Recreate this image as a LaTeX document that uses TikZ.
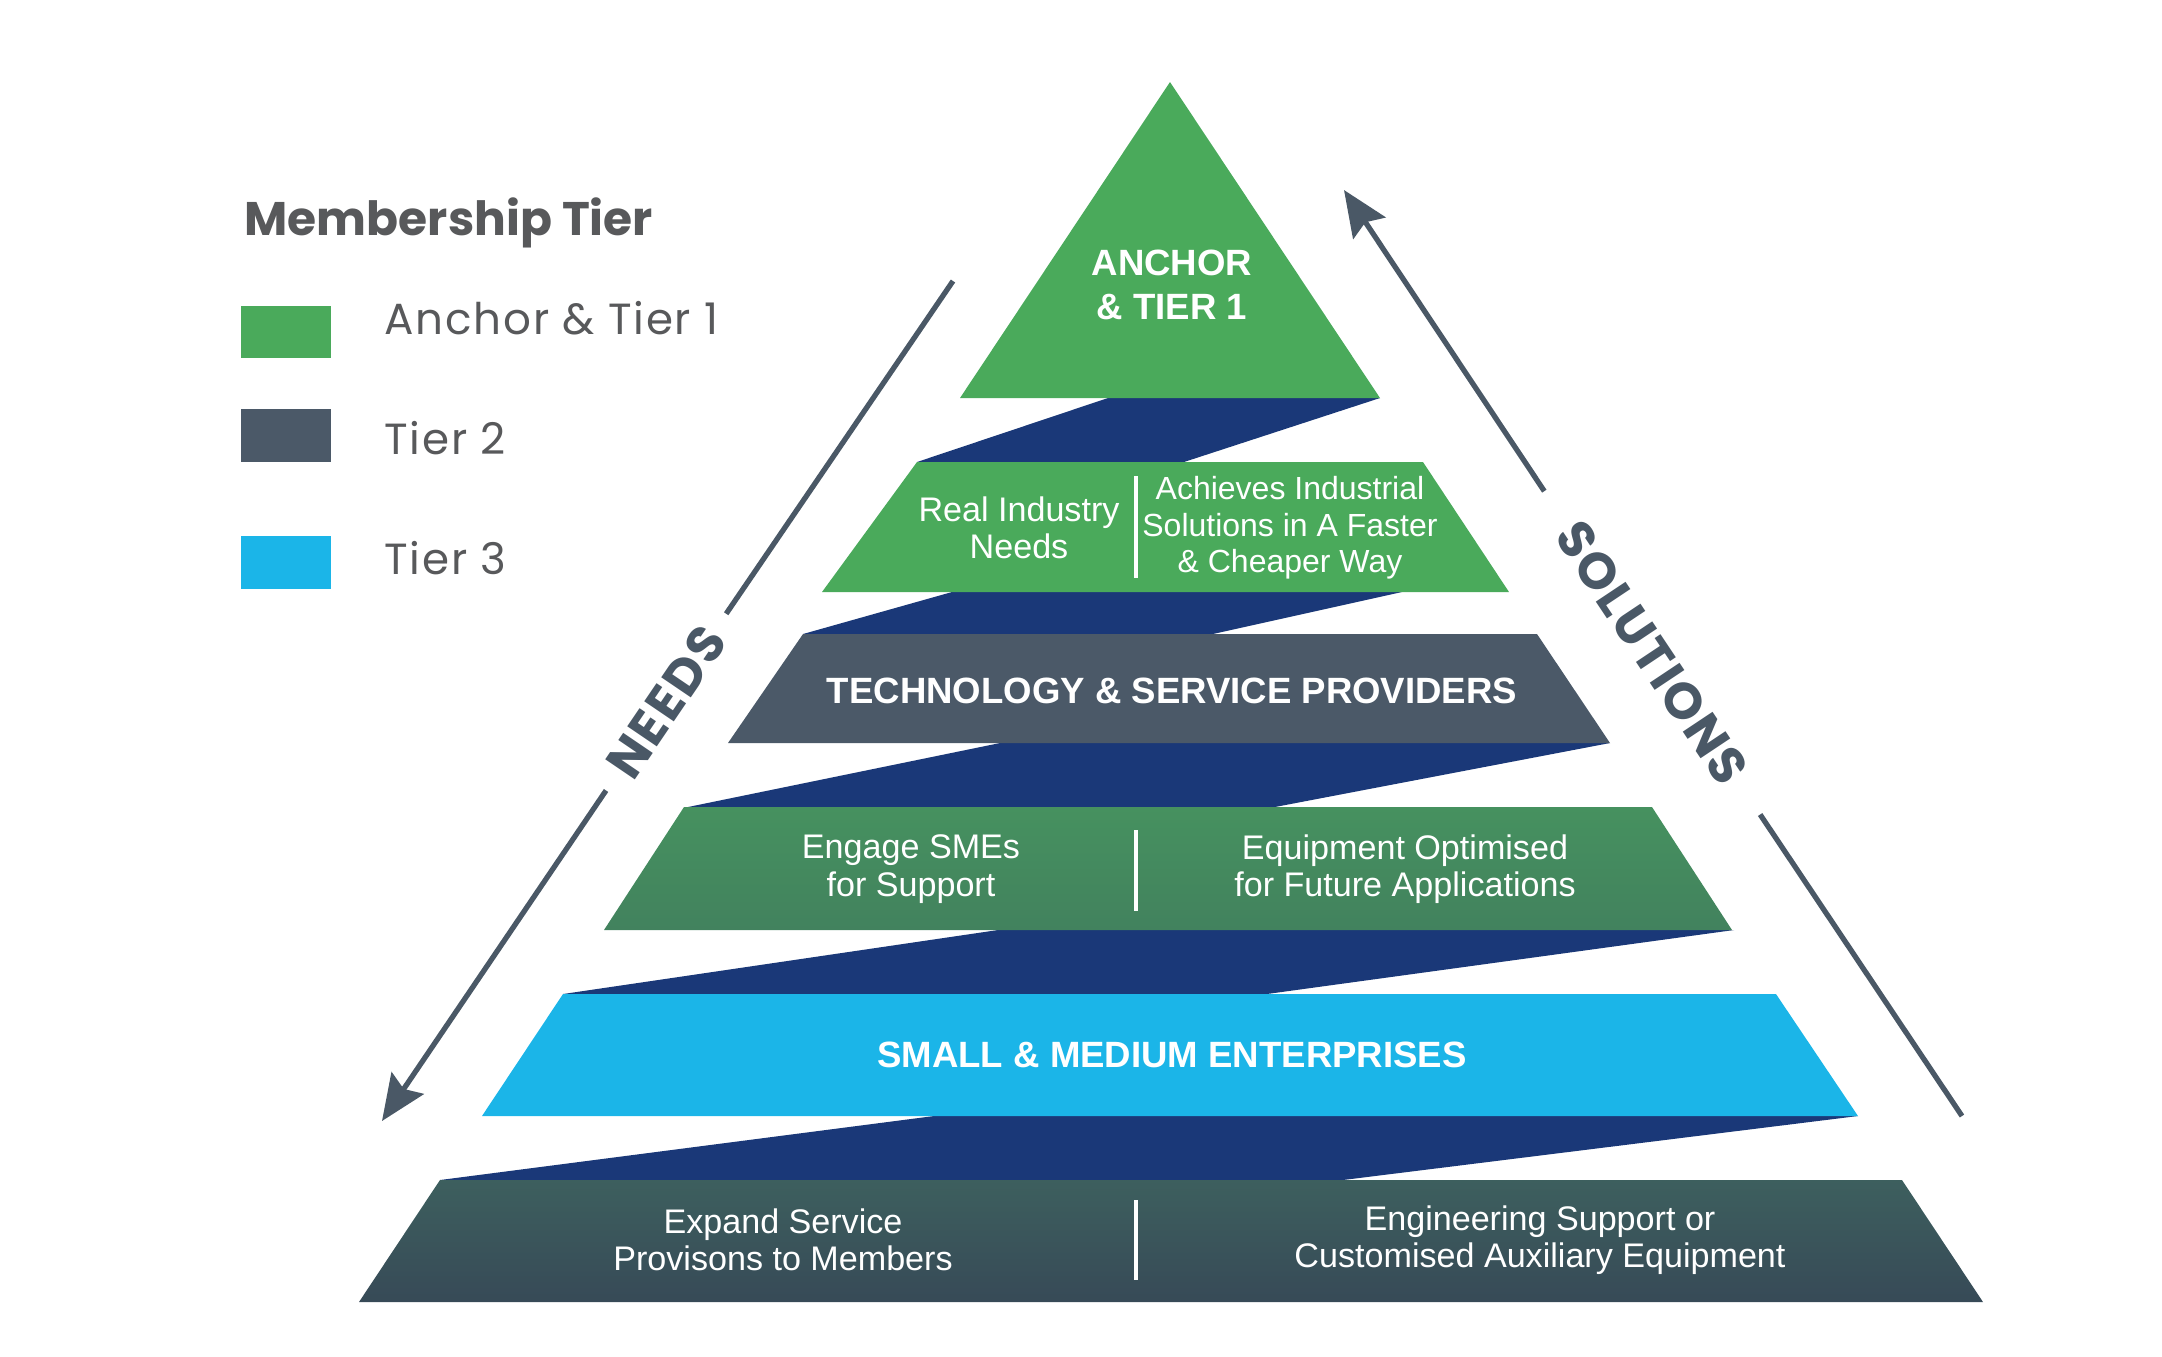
\documentclass[tikz,border=0pt]{standalone}
\usepackage{fontspec}
\setmainfont{Liberation Sans}
\newfontfamily\roundfont{Poppins}
\newfontfamily\roundwide[LetterSpace=4]{Poppins}
\usetikzlibrary{arrows.meta}
\definecolor{tiergreen}{HTML}{4AAA5B}
\definecolor{tiergray}{HTML}{4B5968}
\definecolor{tiercyan}{HTML}{1BB5E8}
\definecolor{navyband}{HTML}{1A3878}
\definecolor{greentop}{HTML}{46915F}
\definecolor{greenbot}{HTML}{42825E}
\definecolor{tealtop}{HTML}{3D5F5E}
\definecolor{tealbot}{HTML}{374A57}
\definecolor{legendgray}{HTML}{58595B}
\definecolor{arrowgray}{HTML}{4A5866}
\begin{document}
\begin{tikzpicture}[x=0.01cm, y=-0.01cm,
  every node/.style={font=\fontsize{9.7}{10.6}\selectfont, text=white, align=center, inner sep=0pt},
  bandtitle/.style={font=\bfseries\fontsize{10.4}{12.4}\selectfont},
  divider/.style={white, line width=0.9pt},
  sidearrow/.style={arrowgray, line width=1.5pt},
  sidelabel/.style={text=arrowgray, inner xsep=6pt, font=\roundwide\bfseries\fontsize{14.5}{15}\selectfont},
  legendtext/.style={anchor=west, text=legendgray, font=\roundwide\fontsize{12.4}{14}\selectfont}]
\useasboundingbox (0,0) rectangle (2162,1356);
\foreach \a/\b/\c/\d/\t/\u in {1108/1380/1184/917/398/462, 952/1402/1213/803/592/634,
    1000/1610/1275/688/743/807, 998/1734/1267/563/930/994, 934/1858/1343/440/1116/1180}
  \fill[navyband] (\a,\t) -- (\b,\t) -- (\c,\u) -- (\d,\u) -- cycle;
\fill[tiergreen] (1170,82) -- (1380,398) -- (960,398) -- cycle;
\fill[tiergreen] (917,462) -- (1423,462) -- (1509,592) -- (822,592) -- cycle;
\fill[tiergray] (803,634) -- (1537,634) -- (1610,743) -- (728,743) -- cycle;
\shade[top color=greentop, bottom color=greenbot] (684,807) -- (1652,807) -- (1732,930) -- (604,930) -- cycle;
\fill[tiercyan] (563,994) -- (1776,994) -- (1858,1116) -- (482,1116) -- cycle;
\shade[top color=tealtop, bottom color=tealbot] (440,1180) -- (1902,1180) -- (1983,1302) -- (359,1302) -- cycle;
\draw[divider] (1136,476) -- (1136,578);
\draw[divider] (1136,830) -- (1136,911);
\draw[divider] (1136,1200) -- (1136,1280);
\node[bandtitle] (anchor) at (1172,285) {ANCHOR\\\& TIER 1};
\node (realneeds) at (1019,528) {Real Industry\\Needs};
\node[font=\fontsize{9.1}{10.4}\selectfont] (achieves) at (1290,528) {Achieves Industrial\\Solutions in A Faster\\\& Cheaper Way};
\node[bandtitle] (providers) at (1172,691) {TECHNOLOGY \& SERVICE PROVIDERS};
\node (engage) at (911,869) {Engage SMEs\\for Support};
\node (optimised) at (1405,869) {Equipment Optimised\\for Future Applications};
\node[bandtitle] (smes) at (1172,1055) {SMALL \& MEDIUM ENTERPRISES};
\node (expand) at (783,1240) {Expand Service\\Provisons to Members};
\node (auxiliary) at (1540,1240) {Engineering Support or\\Customised Auxiliary Equipment};
\coordinate (needstop) at (953,281);
\coordinate (needsend) at (382,1121);
\node[sidelabel, rotate=55.8] (needs) at (666,702) {NEEDS};
\draw[sidearrow] (needstop) -- (needs);
\draw[sidearrow, -{Stealth[length=13pt, width=11pt, inset=2pt]}] (needs) -- (needsend);
\coordinate (solbottom) at (1962,1116);
\coordinate (soltip) at (1344,190);
\node[sidelabel, inner xsep=12pt, rotate=-56.3] (solutions) at (1652,653) {SOLUTIONS};
\draw[sidearrow] (solbottom) -- (solutions);
\draw[sidearrow, -{Stealth[length=13pt, width=11pt, inset=2pt]}] (solutions) -- (soltip);
\node[anchor=west, text=legendgray, font=\roundfont\bfseries\fontsize{13.4}{14}\selectfont] (legendtitle) at (244,223) {Membership Tier};
\fill[tiergreen] (241,306) rectangle (331,358);
\fill[tiergray] (241,409) rectangle (331,462);
\fill[tiercyan] (241,536) rectangle (331,589);
\node[legendtext] (keyanchor) at (384,318) {Anchor \& Tier 1};
\node[legendtext] (keytwo) at (384,438) {Tier 2};
\node[legendtext] (keythree) at (384,558) {Tier 3};
\end{tikzpicture}
\end{document}
